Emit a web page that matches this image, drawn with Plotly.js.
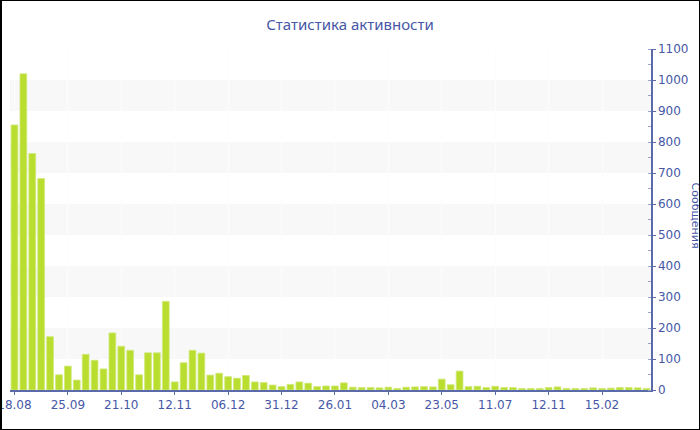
<!DOCTYPE html>
<html>
<head>
<meta charset="utf-8">
<script src="https://cdn.plot.ly/plotly-3.0.1.min.js"></script>
<style>
  html, body { margin: 0; padding: 0; background: #fff; }
  #wrap { position: relative; width: 700px; height: 430px; overflow: hidden; }
  #chart { width: 700px; height: 430px; }
  #frame { position: absolute; left: 0; top: 0; width: 700px; height: 430px;
           box-sizing: border-box; border: 1px solid #000; border-left-width: 2px;
           pointer-events: none; }
</style>
</head>
<body>
<div id="wrap">
  <div id="chart"></div>
  <div id="frame"></div>
</div>
<script>
// Weekly message counts, one bar per period
const messages = [
  855, 1020, 763, 682, 172, 49, 77, 32, 115, 96, 68, 184,
  141, 128, 49, 120, 120, 286, 26, 88, 128, 119, 48, 54,
  43, 38, 47, 26, 24, 16, 11, 18, 26, 22, 11, 13,
  13, 23, 9, 8, 8, 7, 9, 5, 9, 10, 11, 10,
  35, 17, 61, 11, 12, 8, 12, 8, 8, 5, 5, 5,
  8, 10, 5, 5, 5, 7, 5, 6, 8, 8, 7, 5
];

// Date labels shown under every sixth bar
const tickIndex = [0, 6, 12, 18, 24, 30, 36, 42, 48, 54, 60, 66];
const tickLabels = ['18.08', '25.09', '21.10', '12.11', '06.12', '31.12',
                    '26.01', '04.03', '23.05', '11.07', '12.11', '15.02'];

const chartTitle = 'Статистика активности';
const yTitle = 'Сообщения';

const positions = messages.map((_, i) => i);

const blue = '#4657a6';
const axisBlue = '#5b6aa9';

// Light horizontal bands on every other 100-step of the value axis
const bands = [];
for (let v = 100; v < 1100; v += 200) {
  bands.push({
    type: 'rect', xref: 'paper', yref: 'y', layer: 'below',
    x0: 0, x1: 1, y0: v, y1: v + 100,
    fillcolor: '#f8f8f8', line: { width: 0 }
  });
}

const trace = {
  type: 'bar',
  x: positions,
  y: messages,
  marker: { color: '#bade30', line: { color: '#cfe878', width: 0.8 } },
  hoverinfo: 'y'
};

const layout = {
  width: 700,
  height: 430,
  margin: { l: 10, r: 49, t: 49, b: 40 },
  paper_bgcolor: '#ffffff',
  plot_bgcolor: '#ffffff',
  showlegend: false,
  bargap: 0.24,
  title: {
    text: chartTitle,
    font: { family: 'Noto Sans, DejaVu Sans, sans-serif', size: 15, color: blue },
    x: 0.5, xanchor: 'center', y: 0.942, yanchor: 'middle'
  },
  font: { family: 'DejaVu Sans, Verdana, sans-serif', size: 11, color: blue },
  xaxis: {
    range: [-0.5, messages.length - 0.5],
    tickmode: 'array',
    tickvals: tickIndex,
    ticktext: tickLabels,
    ticklabeloverflow: 'allow',
    ticks: 'outside', ticklen: 3, tickcolor: axisBlue,
    showline: true, linecolor: axisBlue, linewidth: 1.5,
    showgrid: true, gridcolor: '#fdfdfd', gridwidth: 1,
    zeroline: false, automargin: false, fixedrange: true,
    tickfont: { size: 12, color: blue }
  },
  yaxis: {
    side: 'right',
    range: [0, 1100],
    tickmode: 'linear', tick0: 0, dtick: 100,
    ticks: 'outside', ticklen: 3, tickcolor: axisBlue,
    minor: { dtick: 50, ticks: 'inside', ticklen: 3, tickcolor: '#9aa3c8', showgrid: false },
    showline: true, linecolor: axisBlue, linewidth: 1.5,
    showgrid: false, zeroline: false, automargin: false, fixedrange: true,
    tickfont: { size: 12, color: blue }
  },
  shapes: bands,
  annotations: [{
    text: yTitle, textangle: 90,
    xref: 'paper', yref: 'paper', x: 1, y: 0.5,
    xanchor: 'center', yanchor: 'middle', xshift: 44, yshift: 4,
    showarrow: false,
    font: { family: 'DejaVu Sans, Verdana, sans-serif', size: 11, color: blue }
  }]
};

Plotly.newPlot('chart', [trace], layout, { displayModeBar: false, staticPlot: true });
</script>
</body>
</html>
